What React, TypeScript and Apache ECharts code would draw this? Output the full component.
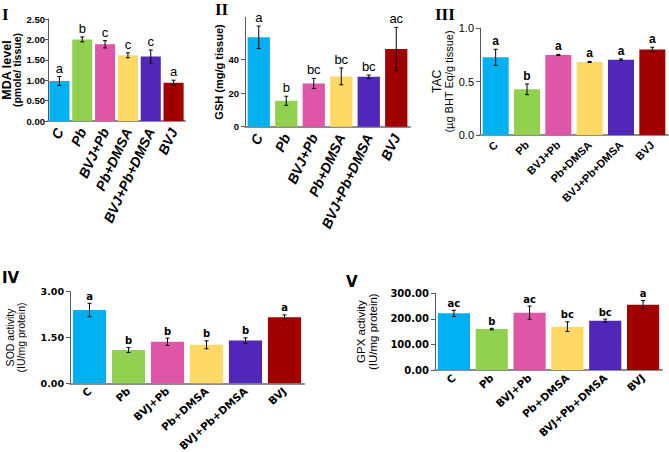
import React, { useEffect, useRef } from "react";
import * as echarts from "echarts";

const groups = ["C", "Pb", "BVJ+Pb", "Pb+DMSA", "BVJ+Pb+DMSA", "BVJ"];
const colors = ["#00b0f0", "#92d050", "#df55a7", "#ffd966", "#5027b8", "#a00000"];

const mdaMean = [0.98, 2.0, 1.88, 1.61, 1.58, 0.94];
const mdaErr = [0.11, 0.06, 0.09, 0.06, 0.16, 0.06];
const mdaLetters = ["a", "b", "c", "c", "c", "a"];

const gshMean = [53.1, 15.4, 25.7, 29.9, 29.7, 46.1];
const gshErr = [6.7, 2.7, 3.0, 5.0, 1.0, 12.9];
const gshLetters = ["a", "b", "bc", "bc", "bc", "ac"];

const tacMean = [0.726, 0.427, 0.748, 0.682, 0.704, 0.8];
const tacErr = [0.075, 0.05, 0.005, 0.005, 0.007, 0.02];
const tacLetters = ["a", "b", "a", "a", "a", "a"];

const sodMean = [2.4, 1.09, 1.36, 1.26, 1.4, 2.16];
const sodErr = [0.22, 0.08, 0.12, 0.13, 0.09, 0.08];
const sodLetters = ["a", "b", "b", "b", "b", "a"];

const gpxMean = [221.6, 160, 224, 169.5, 193, 255.5];
const gpxErr = [12, 3, 26, 19, 6, 16];
const gpxLetters = ["ac", "b", "ac", "bc", "bc", "a"];

const NARROW = "'Liberation Sans Narrow', 'Liberation Sans', sans-serif";
const SANS = "'Liberation Sans', Arial, sans-serif";
const DEJAVU = "'DejaVu Sans', Verdana, sans-serif";
const SERIF = "'Liberation Serif', 'Times New Roman', serif";

type Font = { family: string; size: number; weight: string; style?: string };
type NameLine = { text: string; size: number; weight: string; family: string; lh: number };
type Panel = {
  grid: { left: number; top: number; width: number; height: number };
  min: number;
  max: number;
  interval: number;
  labelValues?: number[];
  decimals: number;
  tickFont: Font;
  tickLen: number;
  tickMargin: number;
  xFont: Font;
  letterFont: Font;
  rotate: number;
  xMargin: number;
  gap: string;
  name: NameLine[];
  nameGap: number;
  mean: number[];
  err: number[];
  letters: string[];
};

const panels: Panel[] = [
  {
    grid: { left: 48, top: 19, width: 137, height: 102 },
    min: 0, max: 2.5, interval: 0.5, decimals: 2,
    tickFont: { family: NARROW, size: 9.5, weight: "bold" },
    tickLen: 3, tickMargin: 3,
    xFont: { family: NARROW, size: 14, weight: "bold", style: "italic" },
    letterFont: { family: NARROW, size: 13, weight: "normal" },
    rotate: 65, xMargin: 8, gap: "12%",
    name: [
      { text: "MDA level", size: 12.5, weight: "bold", family: SANS, lh: 11 },
      { text: "(pmole/ tissue)", size: 10.5, weight: "bold", family: SANS, lh: 10 },
    ],
    nameGap: 22,
    mean: mdaMean, err: mdaErr, letters: mdaLetters,
  },
  {
    grid: { left: 245, top: 17.3, width: 165, height: 109.4 },
    min: 0, max: 65, interval: 20, labelValues: [0, 20, 40, 60], decimals: 0,
    tickFont: { family: NARROW, size: 9.5, weight: "bold" },
    tickLen: 4, tickMargin: 6,
    xFont: { family: NARROW, size: 14, weight: "bold", style: "italic" },
    letterFont: { family: NARROW, size: 13, weight: "normal" },
    rotate: 65, xMargin: 8, gap: "19%",
    name: [{ text: "GSH (mg/g tissue)", size: 11, weight: "bold", family: SANS, lh: 12 }],
    nameGap: 19,
    mean: gshMean, err: gshErr, letters: gshLetters,
  },
  {
    grid: { left: 480, top: 28, width: 188, height: 107 },
    min: 0, max: 1, interval: 0.5, decimals: 1,
    tickFont: { family: SANS, size: 11, weight: "normal" },
    tickLen: 4, tickMargin: 6,
    xFont: { family: SANS, size: 11, weight: "bold", style: "normal" },
    letterFont: { family: SANS, size: 12, weight: "bold" },
    rotate: 45, xMargin: 8, gap: "17%",
    name: [
      { text: "TAC", size: 12, weight: "normal", family: SANS, lh: 12 },
      { text: "(µg BHT Eq/g tissue)", size: 11, weight: "normal", family: SANS, lh: 12 },
    ],
    nameGap: 22,
    mean: tacMean, err: tacErr, letters: tacLetters,
  },
  {
    grid: { left: 70, top: 291.7, width: 234, height: 91.6 },
    min: 0, max: 3, interval: 1.5, decimals: 2,
    tickFont: { family: DEJAVU, size: 9.5, weight: "bold" },
    tickLen: 4, tickMargin: 6,
    xFont: { family: DEJAVU, size: 10.5, weight: "bold", style: "normal" },
    letterFont: { family: DEJAVU, size: 10, weight: "bold" },
    rotate: 42, xMargin: 6, gap: "15%",
    name: [
      { text: "SOD activity", size: 10.5, weight: "normal", family: SANS, lh: 11 },
      { text: "(IU/mg protein)", size: 10.5, weight: "normal", family: SANS, lh: 11 },
    ],
    nameGap: 44,
    mean: sodMean, err: sodErr, letters: sodLetters,
  },
  {
    grid: { left: 435, top: 293.3, width: 227, height: 76.7 },
    min: 0, max: 300, interval: 100, decimals: 2,
    tickFont: { family: DEJAVU, size: 10, weight: "bold" },
    tickLen: 4, tickMargin: 6,
    xFont: { family: DEJAVU, size: 10.5, weight: "bold", style: "normal" },
    letterFont: { family: DEJAVU, size: 10, weight: "bold" },
    rotate: 42, xMargin: 6, gap: "15%",
    name: [
      { text: "GPX activity", size: 11.5, weight: "normal", family: SANS, lh: 12 },
      { text: "(IU/mg protein)", size: 11.5, weight: "normal", family: SANS, lh: 12 },
    ],
    nameGap: 56,
    mean: gpxMean, err: gpxErr, letters: gpxLetters,
  },
];

function buildOption() {
  const grid: any[] = [];
  const xAxis: any[] = [];
  const yAxis: any[] = [];
  const series: any[] = [];
  panels.forEach((p, i) => {
    const xStyle = p.xFont.style || "normal";
    grid.push({ ...p.grid, containLabel: false, outerBoundsMode: "none" });
    xAxis.push({
      type: "category",
      gridIndex: i,
      data: groups,
      axisLine: { lineStyle: { color: "#8c8c8c", width: 2 } },
      axisTick: { show: false },
      axisLabel: {
        interval: 0,
        rotate: p.rotate,
        margin: p.xMargin,
        color: "#000",
        hideOverlap: false,
        fontFamily: p.xFont.family,
        fontSize: p.xFont.size,
        fontWeight: p.xFont.weight,
        fontStyle: xStyle,
      },
    });
    const labelCfg: any = {
      color: "#000",
      margin: p.tickMargin,
      fontFamily: p.tickFont.family,
      fontSize: p.tickFont.size,
      fontWeight: p.tickFont.weight,
      formatter: (v: number) => v.toFixed(p.decimals),
    };
    const tickCfg: any = { show: true, length: p.tickLen, lineStyle: { color: "#595959" } };
    if (p.labelValues) {
      labelCfg.customValues = p.labelValues;
      labelCfg.showMaxLabel = false;
      tickCfg.customValues = p.labelValues;
    }
    const rich: any = {};
    p.name.forEach((n, k) => {
      rich["l" + k] = {
        fontFamily: n.family,
        fontSize: n.size,
        fontWeight: n.weight,
        color: "#000",
        lineHeight: n.lh,
        align: "center",
      };
    });
    yAxis.push({
      type: "value",
      gridIndex: i,
      min: p.min,
      max: p.max,
      interval: p.interval,
      name: p.name.map((n, k) => `{l${k}|${n.text}}`).join("\n"),
      nameLocation: "middle",
      nameRotate: 90,
      nameGap: p.nameGap,
      nameTextStyle: { rich, align: "center" },
      axisLine: { show: true, lineStyle: { color: "#595959", width: 1 } },
      axisTick: tickCfg,
      splitLine: { show: false },
      axisLabel: labelCfg,
    });
    series.push({
      type: "bar",
      xAxisIndex: i,
      yAxisIndex: i,
      barCategoryGap: p.gap,
      data: p.mean.map((v, k) => ({ value: v, itemStyle: { color: colors[k] } })),
      z: 2,
    });
    series.push({
      type: "custom",
      xAxisIndex: i,
      yAxisIndex: i,
      z: 5,
      data: p.mean.map((v, k) => [k, v, p.err[k]]),
      renderItem: (params: any, api: any) => {
        const k = api.value(0);
        const m = api.value(1);
        const e = api.value(2);
        const top = api.coord([k, m + e]);
        const bot = api.coord([k, m - e]);
        const cap = 2;
        const ls = { stroke: "#000", lineWidth: 1 };
        const letter = p.letters[params.dataIndex];
        return {
          type: "group",
          children: [
            { type: "line", shape: { x1: top[0], y1: top[1], x2: bot[0], y2: bot[1] }, style: ls },
            { type: "line", shape: { x1: top[0] - cap, y1: top[1], x2: top[0] + cap, y2: top[1] }, style: ls },
            { type: "line", shape: { x1: bot[0] - cap, y1: bot[1], x2: bot[0] + cap, y2: bot[1] }, style: ls },
            {
              type: "text",
              x: top[0],
              y: top[1] - 2,
              style: {
                text: letter,
                fill: "#000",
                fontFamily: p.letterFont.family,
                fontSize: p.letterFont.size,
                fontWeight: p.letterFont.weight,
                align: "center",
                verticalAlign: "bottom",
                textAlign: "center",
                textVerticalAlign: "bottom",
              },
            },
          ],
        };
      },
    });
  });

  const title = (text: string, x: number, y: number, font: string) => ({
    type: "text",
    x,
    y,
    style: { text, font, fill: "#000", textAlign: "left", textVerticalAlign: "top" },
  });

  const graphic = [
    title("I", 2, 6, `bold 17px ${SERIF}`),
    title("II", 215, 1, `bold 17px ${SERIF}`),
    title("III", 435, 6, `bold 17px ${SERIF}`),
    title("IV", 2, 270, `bold 15px ${DEJAVU}`),
    title("V", 346, 274, `bold 15px ${DEJAVU}`),
  ];

  return {
    animation: false,
    backgroundColor: "#fff",
    grid,
    xAxis,
    yAxis,
    series,
    graphic,
  };
}

export default function App() {
  const ref = useRef<HTMLDivElement>(null);
  useEffect(() => {
    if (!ref.current) return;
    const chart = echarts.init(ref.current, undefined, { renderer: "svg" });
    chart.setOption(buildOption() as any);
    return () => chart.dispose();
  }, []);
  return (
    <div
      ref={ref}
      style={{ position: "fixed", left: 0, top: 0, width: 669, height: 452 }}
    />
  );
}
